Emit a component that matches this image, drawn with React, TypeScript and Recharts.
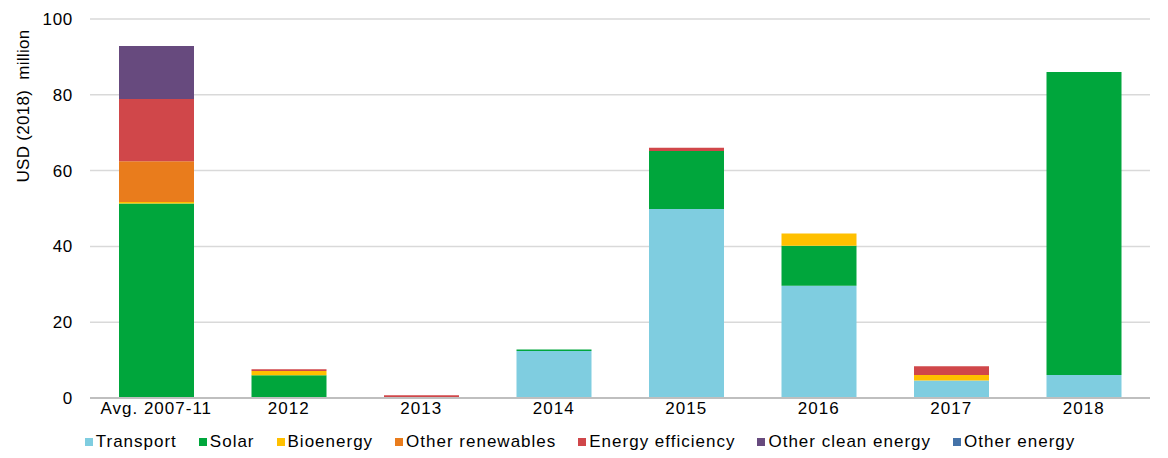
import React from "react";
import { Bar, BarChart, CartesianGrid, Legend, XAxis, YAxis } from "recharts";

document.body.style.margin = "0";

const categories = ["Avg. 2007-11", "2012", "2013", "2014", "2015", "2016", "2017", "2018"];
const transport = [0, 0, 0, 12.4, 49.9, 29.6, 4.6, 6.1];
const solar = [51.3, 6.0, 0, 0.4, 15.3, 10.6, 0, 79.9];
const bioenergy = [0.4, 1.1, 0, 0, 0, 3.2, 1.5, 0];
const otherRenewables = [10.8, 0, 0, 0, 0, 0, 0, 0];
const energyEfficiency = [16.4, 0.5, 0.7, 0, 0.8, 0, 2.3, 0];
const otherClean = [14.0, 0, 0, 0, 0, 0, 0, 0];
const otherEnergy = [0, 0, 0, 0, 0, 0, 0, 0];
const yTicks = [0, 20, 40, 60, 80, 100];

const series = [
	{ key: "transport", name: "Transport", color: "#7fcde0", values: transport },
	{ key: "solar", name: "Solar", color: "#00a63c", values: solar },
	{ key: "bioenergy", name: "Bioenergy", color: "#ffc000", values: bioenergy },
	{ key: "otherRenewables", name: "Other renewables", color: "#e97c1c", values: otherRenewables },
	{ key: "energyEfficiency", name: "Energy efficiency", color: "#d0474a", values: energyEfficiency },
	{ key: "otherClean", name: "Other clean energy", color: "#674a7e", values: otherClean },
	{ key: "otherEnergy", name: "Other energy", color: "#4472a8", values: otherEnergy },
];

const data = categories.map((c, i) => {
	const row: Record<string, string | number> = { category: c };
	series.forEach((s) => (row[s.key] = s.values[i]));
	return row;
});

const font = "'Liberation Sans', Arial, sans-serif";

function LegendContent() {
	return (
		<div
			style={{
				display: "flex",
				justifyContent: "center",
				alignItems: "center",
				height: 32,
				fontFamily: font,
				fontSize: 17,
				letterSpacing: 1,
				color: "#000",
				paddingLeft: 10,
			}}
		>
			{series.map((s, i) => (
				<div
					key={s.key}
					style={{
						display: "flex",
						alignItems: "center",
						marginRight: i === series.length - 1 ? 0 : 22,
					}}
				>
					<span style={{ width: 8, height: 8, background: s.color, marginRight: 3 }} />
					<span>{s.name}</span>
				</div>
			))}
		</div>
	);
}

export default function App() {
	return (
		<BarChart
			width={1168}
			height={458}
			data={data}
			margin={{ top: 19, right: 18, left: 0, bottom: 0 }}
			barSize={75}
		>
			<CartesianGrid vertical={false} stroke="#d9d9d9" strokeWidth={1.5} />
			<XAxis
				dataKey="category"
				height={28}
				tickLine={false}
				tickSize={0}
				tickMargin={4}
				stroke="#bfbfbf"
				strokeWidth={2}
				tick={{ fill: "#000", fontSize: 17, fontFamily: font, letterSpacing: 1 }}
			/>
			<YAxis
				width={90}
				domain={[0, 100]}
				ticks={yTicks}
				axisLine={false}
				tickLine={false}
				tickMargin={11}
				tick={{ fill: "#000", fontSize: 17, fontFamily: font, letterSpacing: 0.7 }}
				label={{
					value: "USD (2018)  million",
					position: "insideTopLeft",
					content: () => (
						<text
							x={23}
							y={106}
							transform="rotate(-90 23 106)"
							textAnchor="middle"
							dominantBaseline="central"
							fontSize={17}
							letterSpacing={0.3}
							fontFamily={font}
							fill="#000"
							style={{ whiteSpace: "pre" }}
						>
							USD (2018)  million
						</text>
					),
				}}
			/>
			<Legend verticalAlign="bottom" height={32} content={<LegendContent />} />
			{series.map((s) => (
				<Bar
					key={s.key}
					dataKey={s.key}
					name={s.name}
					stackId="a"
					fill={s.color}
					isAnimationActive={false}
				/>
			))}
		</BarChart>
	);
}
